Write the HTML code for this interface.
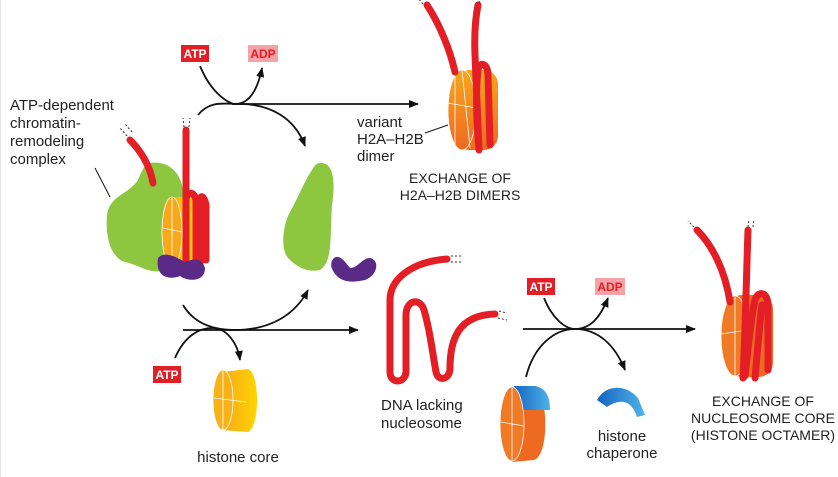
<!DOCTYPE html>
<html><head><meta charset="utf-8"><style>
body{margin:0;background:#fff}
svg{display:block;font-family:"Liberation Sans",sans-serif}
</style></head><body>
<svg width="838" height="477" viewBox="0 0 838 477" xmlns="http://www.w3.org/2000/svg">
<defs>
<marker id="ah" markerWidth="10" markerHeight="8" refX="9" refY="4" orient="auto" markerUnits="userSpaceOnUse"><path d="M0,0 L10,4 L0,8 z" fill="#111"/></marker>
<linearGradient id="yg" x1="0" x2="1"><stop offset="0" stop-color="#f7a81b"/><stop offset="1" stop-color="#ffd400"/></linearGradient>
<linearGradient id="og" x1="0" y1="0" x2="0" y2="1"><stop offset="0" stop-color="#f8a51d"/><stop offset="1" stop-color="#ee6a22"/></linearGradient>
<linearGradient id="bg" x1="0" x2="1"><stop offset="0" stop-color="#1565c0"/><stop offset="1" stop-color="#4fb3ea"/></linearGradient>
</defs>
<line x1="0.5" y1="0" x2="0.5" y2="477" stroke="#e6e6e6"/>

<rect x="181" y="45" width="28" height="17" fill="#e31e24"/><text x="195" y="58" font-size="12" font-weight="bold" fill="#fff" text-anchor="middle">ATP</text>
<rect x="248" y="45" width="30" height="17" fill="#f5a3a8"/><text x="263" y="58" font-size="12" font-weight="bold" fill="#e31e24" text-anchor="middle">ADP</text>
<g fill="none" stroke="#111" stroke-width="1.8">
<line x1="232" y1="104" x2="418" y2="104" marker-end="url(#ah)"/>
<path d="M200,66 C212,95 230,104 235,104 C250,104 258,88 262,68" marker-end="url(#ah)"/>
<path d="M198,115 C210,100 225,104 240,104 C270,104 295,118 305,146" marker-end="url(#ah)"/>
<line x1="183" y1="330" x2="358" y2="330" marker-end="url(#ah)"/>
<path d="M183,305 C195,325 215,330 235,330 C270,330 295,315 308,290" marker-end="url(#ah)"/>
<path d="M175,358 C185,335 200,328 212,328 C228,328 238,345 240,360" marker-end="url(#ah)"/>
<line x1="523" y1="329" x2="695" y2="329" marker-end="url(#ah)"/>
<path d="M544,298 C552,318 565,329 575,329 C590,329 600,318 608,298" marker-end="url(#ah)"/>
<path d="M526,377 C534,345 555,329 575,329 C598,329 615,345 625,370" marker-end="url(#ah)"/>
<line x1="95" y1="168" x2="110" y2="197" stroke-width="1"/>
<line x1="425" y1="133" x2="448" y2="125" stroke-width="1"/>
</g>

<text font-size="15" fill="#222"><tspan x="10" y="110">ATP-dependent</tspan><tspan x="10" y="128">chromatin-</tspan><tspan x="10" y="146">remodeling</tspan><tspan x="10" y="164">complex</tspan></text>
<text font-size="15" fill="#222"><tspan x="357" y="127">variant</tspan><tspan x="357" y="144">H2A–H2B</tspan><tspan x="357" y="161">dimer</tspan></text>
<text font-size="14" fill="#222" text-anchor="middle"><tspan x="460" y="183">EXCHANGE OF</tspan><tspan x="460" y="200">H2A–H2B DIMERS</tspan></text>

<path d="M150,163 C170,160 185,175 183,200 C182,230 178,260 165,270 C150,275 140,265 125,262 C112,258 105,240 107,215 C110,195 128,195 138,180 C142,170 145,164 150,163z" fill="#8dc63f"/>
<path d="M153,183 C150,165 140,150 130,140" fill="none" stroke="#e31e24" stroke-width="7" stroke-linecap="round"/>
<rect x="163" y="197" width="45" height="70" rx="14" fill="url(#yg)"/>
<ellipse cx="172" cy="232" rx="10" ry="35" fill="#f7a81b" stroke="#fff" stroke-width="0.8"/>
<path d="M163,228 L182,232 M172,198 L172,266" stroke="#fff" stroke-width="0.8"/>
<path d="M186,268 L186,130 M186,268 L186,200 C186,192 194,190 196,200 L196,265 M200,265 L200,200 C200,195 204,195 206,205 L206,260" fill="none" stroke="#e31e24" stroke-width="7" stroke-linecap="round"/>
<path d="M158,258 C165,250 178,258 185,262 C195,258 202,258 205,268 C205,282 188,282 180,276 C170,280 155,278 158,258z" fill="#5b2a86"/>
<g stroke="#333" stroke-width="1" stroke-dasharray="2,2"><line x1="127" y1="136" x2="120" y2="128"/><line x1="132" y1="132" x2="125" y2="124"/><line x1="184" y1="127" x2="183" y2="118"/><line x1="189" y1="127" x2="190" y2="118"/></g>

<path d="M320,163 C335,162 335,185 332,205 C330,235 333,262 320,270 C305,273 295,265 288,258 C280,248 283,225 290,212 C298,198 305,180 312,170 C314,166 317,163 320,163z" fill="#8dc63f"/>
<path d="M334,258 C340,254 345,262 350,268 C358,268 362,258 370,258 C380,260 378,275 365,280 C352,283 342,282 336,275 C330,268 330,262 334,258z" fill="#5b2a86"/>

<rect x="455" y="70" width="43" height="80" rx="14" fill="url(#og)"/>
<ellipse cx="462" cy="110" rx="14" ry="40" fill="url(#og)" stroke="#fff" stroke-width="0.8"/>
<path d="M448,103 L476,108 M455,71 L455,148 M462,70 L470,148" stroke="#fff" stroke-width="0.8"/>
<path d="M455,72 C450,50 440,25 427,5" fill="none" stroke="#e31e24" stroke-width="7" stroke-linecap="round"/>
<path d="M479,150 L475,55 C474,30 476,15 478,5 M479,148 C476,120 476,85 478,70 C480,60 488,64 488,75 L490,145" fill="none" stroke="#e31e24" stroke-width="7" stroke-linecap="round"/>
<g stroke="#333" stroke-width="1" stroke-dasharray="2,2"><line x1="423" y1="4" x2="418" y2="-2"/><line x1="479" y1="3" x2="480" y2="-3"/></g>

<path d="M222,372 L248,369 C260,372 260,428 248,432 L222,430z" fill="url(#yg)"/>
<ellipse cx="223" cy="400" rx="10" ry="30" fill="#f7b21a" stroke="#fff" stroke-width="0.8"/>
<path d="M214,398 L246,402 M223,371 L223,430" stroke="#fff" stroke-width="0.8"/>
<text x="238" y="462" font-size="15" fill="#222" text-anchor="middle">histone core</text>
<rect x="153" y="366" width="28" height="17" fill="#e31e24"/><text x="167" y="379" font-size="12" font-weight="bold" fill="#fff" text-anchor="middle">ATP</text>

<path d="M447,259 C410,262 390,280 390,300 L390,372 C390,384 405,384 406,372 L406,315 C406,300 420,297 424,310 C430,330 432,350 436,372 C438,382 450,380 450,368 C450,340 458,315 495,314" fill="none" stroke="#e31e24" stroke-width="7" stroke-linecap="round"/>
<g stroke="#333" stroke-width="1" stroke-dasharray="2,2"><line x1="451" y1="256" x2="463" y2="256"/><line x1="451" y1="262" x2="463" y2="262"/><line x1="499" y1="311" x2="507" y2="313"/><line x1="498" y1="318" x2="507" y2="320"/></g>
<text font-size="15" fill="#222"><tspan x="381" y="410">DNA lacking</tspan><tspan x="381" y="428">nucleosome</tspan></text>

<rect x="527" y="278" width="28" height="17" fill="#e31e24"/><text x="541" y="291" font-size="12" font-weight="bold" fill="#fff" text-anchor="middle">ATP</text>
<rect x="595" y="278" width="30" height="17" fill="#f5a3a8"/><text x="610" y="291" font-size="12" font-weight="bold" fill="#e31e24" text-anchor="middle">ADP</text>

<path d="M512,388 L534,386 C548,390 550,455 534,460 L512,462z" fill="#ee6a22"/>
<path d="M514,386 L535,386 C545,388 550,395 550,410 L520,410z" fill="url(#bg)"/>
<ellipse cx="512" cy="424" rx="12" ry="37" fill="#f07a25" stroke="#fff" stroke-width="0.8"/>
<path d="M501,422 L524,426 M512,388 L512,460" stroke="#fff" stroke-width="0.8"/>

<path d="M597,400 C605,385 625,383 638,398 L645,415 L637,417 C632,400 620,398 607,407z" fill="url(#bg)"/>
<text font-size="15" fill="#222" text-anchor="middle"><tspan x="622" y="441">histone</tspan><tspan x="622" y="458">chaperone</tspan></text>

<rect x="728" y="295" width="45" height="82" rx="14" fill="#ee6a22"/>
<ellipse cx="735" cy="336" rx="14" ry="40" fill="#f07a25" stroke="#fff" stroke-width="0.8"/>
<path d="M721,334 L748,330 M735,297 L735,376" stroke="#fff" stroke-width="0.8"/>
<path d="M730,302 C725,270 712,245 697,230" fill="none" stroke="#e31e24" stroke-width="7" stroke-linecap="round"/>
<path d="M743,378 C745,340 746,290 748,230 M745,376 C748,350 752,310 755,300 C758,290 768,292 768,305 L768,370 M755,378 C758,345 760,318 762,305" fill="none" stroke="#e31e24" stroke-width="7" stroke-linecap="round"/>
<g stroke="#333" stroke-width="1" stroke-dasharray="2,2"><line x1="694" y1="227" x2="688" y2="221"/><line x1="748" y1="227" x2="749" y2="219"/><line x1="753" y1="227" x2="754" y2="219"/></g>
<text font-size="14" fill="#222" text-anchor="middle"><tspan x="763" y="406">EXCHANGE OF</tspan><tspan x="763" y="423">NUCLEOSOME CORE</tspan><tspan x="763" y="440">(HISTONE OCTAMER)</tspan></text>
</svg>
</body></html>
